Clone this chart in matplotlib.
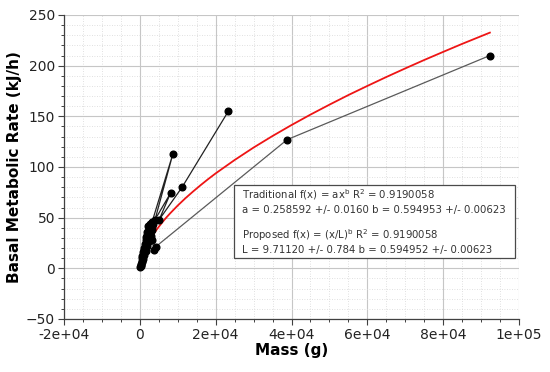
import matplotlib
matplotlib.use("Agg")
import matplotlib.pyplot as plt
from matplotlib.patches import Rectangle
from matplotlib.ticker import MultipleLocator, FixedLocator

plt.rcParams['font.family'] = ['DejaVu Sans']
plt.rcParams['mathtext.default'] = 'regular'

# ---- data ----
mass_g = [23340, 11100, 5100, 8090, 4000, 8720, 3250,
          2600, 2300, 2000, 2200, 1800, 1500, 1700, 1300, 1100, 900, 1000, 700, 600, 450, 300, 200, 100, 250,
          500, 800, 1200, 1500, 1900, 2200, 2500, 2800, 3100, 3300, 3600, 2900, 3200, 3800, 4230,
          38850, 92320]
bmr_kjh = [155, 79.8, 48, 74.2, 48, 113, 46,
           44, 40, 36, 42, 33, 28, 31, 24, 20, 16, 18, 12, 10, 7, 4, 2, 1.5, 3,
           6, 9, 13, 17, 22, 26, 30, 34, 38, 41, 44, 32, 28, 18, 21.4,
           127, 210]

fit_mass = [0, 100, 200, 500, 1000, 2000, 3000, 4000, 5000, 6000, 7000, 8000, 10000, 12000,
            14000, 16000, 18000, 20000, 25000, 30000, 35000, 40000, 45000, 50000, 55000,
            60000, 65000, 70000, 75000, 80000, 85000, 92320]
fit_bmr = [0, 4.0, 6.1, 10.4, 15.8, 23.8, 30.3, 36.0, 41.0, 45.8, 50.2, 54.3, 62.0, 69.1,
           75.7, 82.0, 88.0, 93.7, 106.9, 119.2, 130.6, 141.4, 151.7, 161.5, 171.0,
           180.0, 188.8, 197.3, 205.6, 213.6, 221.5, 232.6]

xticks = [-20000, 0, 20000, 40000, 60000, 80000, 100000]
xtick_labels = ['-2e+04', '0', '2e+04', '4e+04', '6e+04', '8e+04', '1e+05']
yticks = [-50, 0, 50, 100, 150, 200, 250]

box_lines_1 = ["Traditional f(x) = ax$^{b}$ R$^{2}$ = 0.9190058",
               "a = 0.258592 +/- 0.0160 b = 0.594953 +/- 0.00623"]
box_lines_2 = ["Proposed f(x) = (x/L)$^{b}$ R$^{2}$ = 0.9190058",
               "L = 9.71120 +/- 0.784 b = 0.594952 +/- 0.00623"]

W, H = 550, 372
fig = plt.figure(figsize=(W / 100, H / 100), dpi=100)
ax = fig.add_axes([64 / W, 1 - 319 / H, 455 / W, 304 / H])

ax.set_xlim(-20000, 100000)
ax.set_ylim(-50, 250)

ax.set_axisbelow(True)
ax.xaxis.set_major_locator(FixedLocator(xticks))
ax.set_xticklabels(xtick_labels)
ax.yaxis.set_major_locator(FixedLocator(yticks))
ax.xaxis.set_minor_locator(MultipleLocator(5000))
ax.yaxis.set_minor_locator(MultipleLocator(10))
ax.grid(which='major', color='#c6c6c6', lw=0.8)
ax.grid(which='minor', color='#d6d6d6', lw=0.6, ls=(0, (1, 2)))

for s in ['top', 'right']:
    ax.spines[s].set_visible(False)
for s in ['left', 'bottom']:
    ax.spines[s].set_color('#404040')
    ax.spines[s].set_linewidth(0.9)
ax.tick_params(which='major', direction='out', length=4.5, width=0.8, color='#404040',
               labelsize=10, labelcolor='#222222', pad=2)
ax.tick_params(which='minor', direction='out', length=2.5, width=0.7, color='#404040')

# data lines and points
n_gray = 3
ax.plot(mass_g[:len(mass_g) - n_gray + 1], bmr_kjh[:len(bmr_kjh) - n_gray + 1],
        color='#222222', lw=0.9, zorder=3)
ax.plot(mass_g[-n_gray:], bmr_kjh[-n_gray:], color='#5a5a5a', lw=0.9, zorder=3)
ax.plot(fit_mass, fit_bmr, color='#ee1515', lw=1.3, zorder=2.5)
ax.plot(mass_g, bmr_kjh, ls='none', marker='o', ms=4.8, color='black', zorder=4)

ax.set_xlabel('Mass (g)', fontsize=11, fontweight='bold', labelpad=1)
ax.set_ylabel('Basal Metabolic Rate (kJ/h)', fontsize=11, fontweight='bold', labelpad=3)

# annotation box
rect = Rectangle((234 / W, 1 - 258 / H), 281 / W, 73 / H, transform=fig.transFigure,
                 fc='white', ec='#4a4a4a', lw=0.9, zorder=10)
fig.add_artist(rect)
ys = [195, 210, 235, 250]
for txt, yp in zip(box_lines_1 + box_lines_2, ys):
    fig.text(242 / W, 1 - yp / H, txt, fontsize=7.3, color='#333333', va='center', ha='left',
             zorder=11)

fig.savefig('out.png', dpi=100)
